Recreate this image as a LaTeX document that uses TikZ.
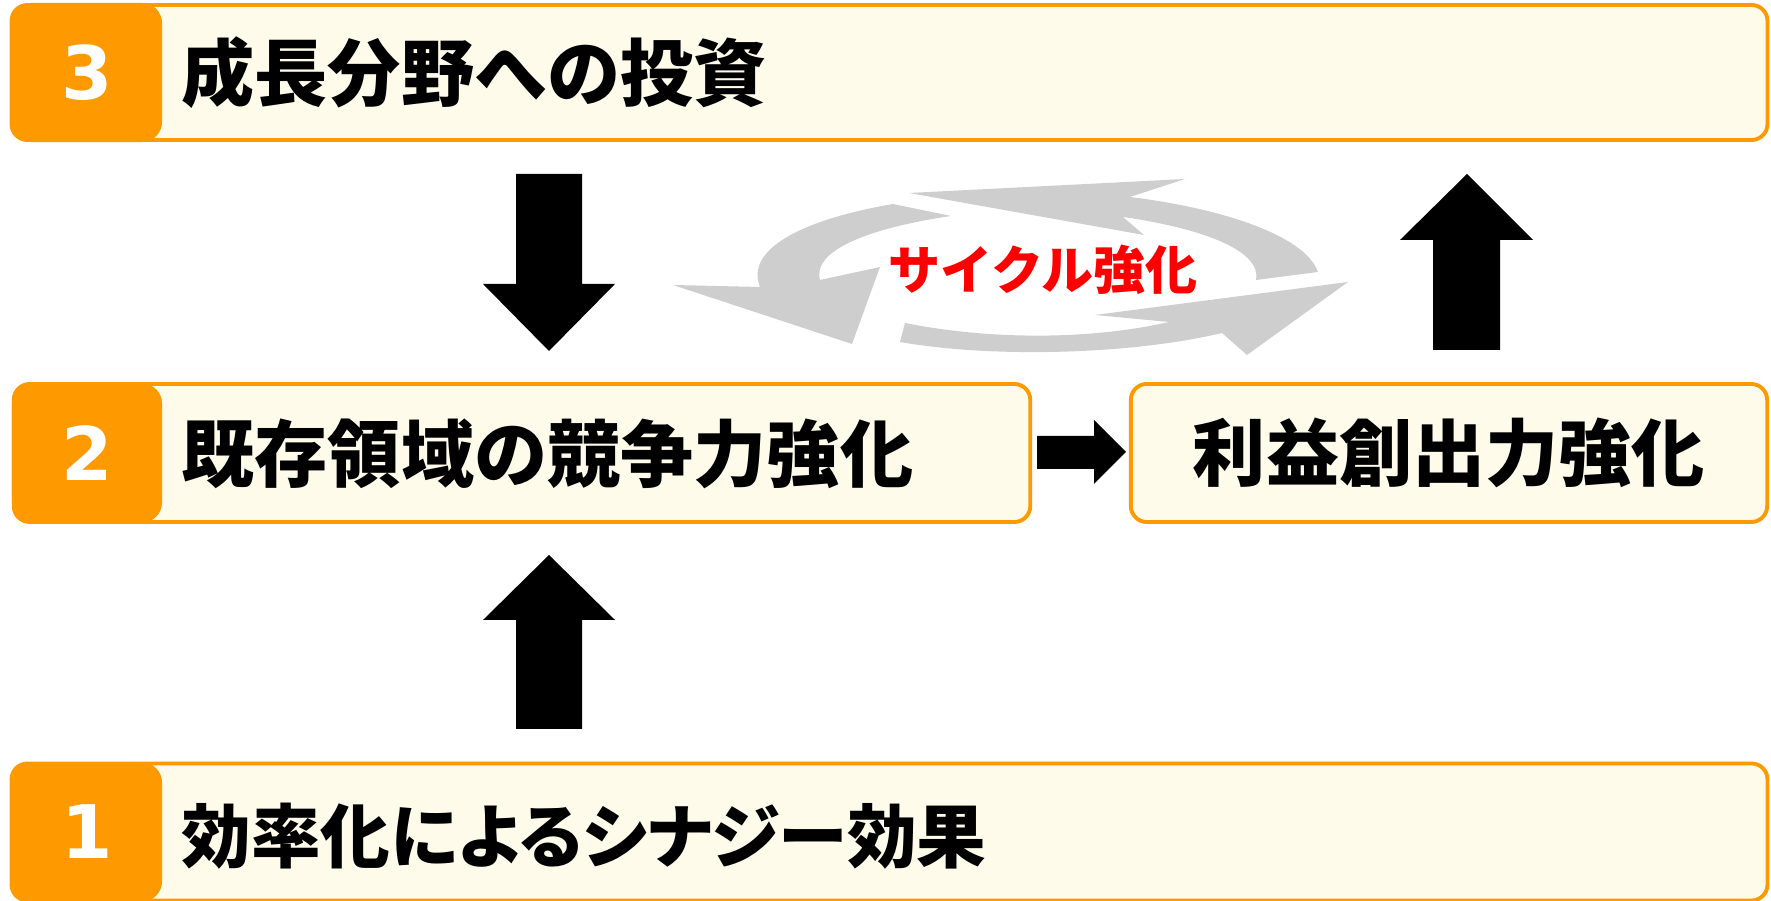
\documentclass[tikz,border=0pt]{standalone}
\usepackage{fontspec}
\setmainfont{Noto Sans CJK JP}
\newfontfamily\numfont{DejaVu Sans}
\usetikzlibrary{positioning}
\definecolor{tabor}{HTML}{FF9900}
\definecolor{panelbg}{HTML}{FFFBEA}
\definecolor{cyclegray}{HTML}{CECECE}

\begin{document}
\begin{tikzpicture}[x=0.01cm, y=-0.01cm,
  panel/.style={draw=tabor, line width=1.1pt, fill=panelbg, rounded corners=0.16cm, inner sep=0pt},
  numtab/.style={fill=tabor, rounded corners=0.2cm, minimum width=1.5cm, minimum height=1.39cm, inner sep=0pt, text=white, font=\numfont\bfseries\fontsize{21}{24}\selectfont},
  lbl/.style={anchor=west, inner sep=0pt, font=\bfseries\fontsize{20.8}{24}\selectfont},
  blk/.style={fill=black},
  cyc/.style={fill=cyclegray}
]
\useasboundingbox (0,0) rectangle (1771,901);
% panels
\node[panel, minimum width=17.55cm, minimum height=1.35cm] (p3) at (889.5,72.5) {};
\node[panel, minimum width=10.16cm, minimum height=1.38cm] (p2) at (522,453) {};
\node[panel, minimum width=6.36cm, minimum height=1.38cm] (p4) at (1449,453) {};
\node[panel, minimum width=17.55cm, minimum height=1.37cm] (p1) at (889.5,832) {};
% number tabs
\node[numtab] (t3) at (87,72.5) {3};
\node[numtab] (t2) at (87,453) {2};
\node[numtab] (t1) at (87,832) {1};
% labels
\node[lbl] (l3) at (181,73) {成長分野への投資};
\node[lbl] (l2) at (181,454) {既存領域の競争力強化};
\node[lbl, anchor=center] (l4) at (p4.center) {利益創出力強化};
\node[lbl, font=\bfseries\fontsize{19.8}{24}\selectfont] (l1) at (181,836) {\addfontfeatures{RawFeature=+palt}効率化によるシナジー効果};
% block arrows
\fill[blk] (516,174) -- (582,174) -- (582,284) -- (615,284) -- (549,351) -- (483,284) -- (516,284) -- cycle;
\fill[blk] (516,729) -- (582,729) -- (582,620) -- (615,620) -- (549,555) -- (483,620) -- (516,620) -- cycle;
\fill[blk] (1433,350) -- (1500,350) -- (1500,240) -- (1533,240) -- (1467,174) -- (1400,240) -- (1433,240) -- cycle;
\fill[blk] (1037,436) -- (1094,436) -- (1094,420) -- (1126,452) -- (1094,484) -- (1094,469) -- (1037,469) -- cycle;
% cycle arrows
\fill[cyc] (909,193) -- (1185,179) -- (1130,197)
  .. controls (1220,208) and (1305,235) .. (1318,272) -- (1256,280)
  .. controls (1262,250) and (1200,228) .. (1123,217) -- (1144,235) -- cycle;
\fill[cyc] (893,204) .. controls (800,220) and (745,250) .. (760,287)
  -- (673,285) -- (852,344) -- (880,267) -- (820,280)
  .. controls (812,250) and (870,228) .. (951,216) -- cycle;
\fill[cyc] (900,342) .. controls (990,358) and (1130,355) .. (1222,333)
  -- (1247,355) -- (1348,282) -- (1095,315) -- (1169,322)
  .. controls (1090,340) and (990,340) .. (905,323) -- cycle;
\node[text=red, font=\bfseries\fontsize{14.8}{18}\selectfont, inner sep=0pt] (cyc) at (1043,270) {サイクル強化};
\end{tikzpicture}
\end{document}
